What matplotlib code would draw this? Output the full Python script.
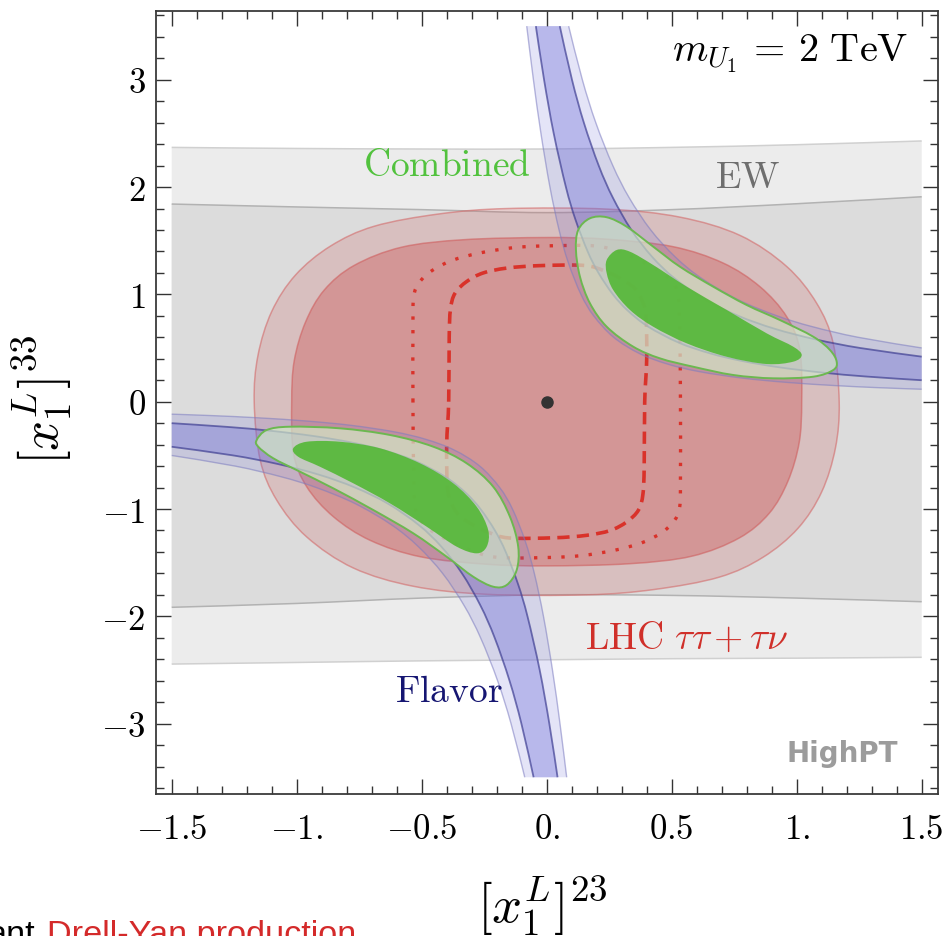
import numpy as np
import matplotlib
matplotlib.use("Agg")
import matplotlib.pyplot as plt
from matplotlib.path import Path
from matplotlib.patches import PathPatch

plt.rcParams["mathtext.fontset"] = "cm"
plt.rcParams["font.family"] = "DejaVu Sans"

# ---- EW constraint: band edges at fixed x ----
EW_X = [-1.5, -1.0, -0.5, 0.0, 0.5, 1.0, 1.5]
EW_OUTER_TOP = [2.37, 2.36, 2.355, 2.355, 2.37, 2.395, 2.43]
EW_INNER_TOP = [1.842, 1.815, 1.79, 1.762, 1.79, 1.845, 1.91]
EW_INNER_BOT = [-1.916, -1.88, -1.83, -1.80, -1.805, -1.83, -1.864]
EW_OUTER_BOT = [-2.445, -2.43, -2.415, -2.405, -2.395, -2.39, -2.382]

# ---- LHC tautau + taunu: upper halves (lower half is the point mirror) ----
LHC_OUT_X = [-1.17, -1.155, -1.10, -1.005, -0.865, -0.69, -0.43, -0.16, 0.24,
             0.533, 0.773, 0.96, 1.08, 1.146]
LHC_OUT_Y = [0.0, 0.43, 0.84, 1.18, 1.45, 1.635, 1.75, 1.80, 1.795,
             1.72, 1.55, 1.26, 0.917, 0.544]
LHC_IN_X = [-1.02, -1.01, -0.965, -0.89, -0.77, -0.58, -0.33, 0.0, 0.24,
            0.505, 0.705, 0.853, 0.96, 1.013]
LHC_IN_Y = [0.0, 0.38, 0.74, 1.04, 1.27, 1.44, 1.51, 1.53, 1.515,
            1.445, 1.293, 1.072, 0.792, 0.48]
DASH_X = [-0.392, -0.39, -0.385, -0.367, -0.32, -0.254, -0.16, -0.03, 0.15,
          0.23, 0.29, 0.35, 0.38, 0.397, 0.40]
DASH_Y = [0.0, 0.60, 0.86, 1.01, 1.12, 1.20, 1.245, 1.268, 1.27,
          1.22, 1.155, 1.06, 0.95, 0.80, 0.40]
DOT_X = [-0.535, -0.535, -0.532, -0.51, -0.46, -0.38, -0.27, -0.135, 0.0,
         0.2, 0.32, 0.44, 0.50, 0.525, 0.532]
DOT_Y = [0.0, 0.70, 0.98, 1.11, 1.22, 1.315, 1.385, 1.435, 1.452,
         1.45, 1.37, 1.235, 1.12, 1.0, 0.70]

# ---- Flavor band, upper-right branch edges (lower-left is the mirror) ----
FLAV_A_X = [-0.0799, -0.0531, -0.0230, 0.0130, 0.0495, 0.0858, 0.1370, 0.1880,
            0.2679, 0.3702, 0.4844, 0.6113, 0.7831, 0.9604, 1.1549, 1.3342, 1.5]
FLAV_A_Y = [3.5, 3.0, 2.5, 2.0, 1.6, 1.3, 1.0, 0.8,
            0.6, 0.45, 0.35, 0.28, 0.22, 0.18, 0.15, 0.13, 0.116]
FLAV_B_X = [-0.0434, -0.0105, 0.0281, 0.0769, 0.1146, 0.1638, 0.2071, 0.2648,
            0.3236, 0.4053, 0.5285, 0.6541, 0.7803, 0.9314, 1.108, 1.2758, 1.5]
FLAV_B_Y = [3.5, 3.0, 2.5, 2.0, 1.7, 1.4, 1.2, 1.0,
            0.85, 0.7, 0.55, 0.45, 0.38, 0.32, 0.27, 0.235, 0.200]
FLAV_C_X = [0.0524, 0.1012, 0.1487, 0.2081, 0.2649, 0.3389, 0.4219, 0.5114,
            0.6354, 0.7667, 0.9116, 1.0769, 1.2556, 1.5]
FLAV_C_Y = [3.5, 3.0, 2.6, 2.2, 1.9, 1.6, 1.35, 1.15,
            0.95, 0.8, 0.68, 0.58, 0.5, 0.420]
FLAV_D_X = [0.0878, 0.1426, 0.1964, 0.2645, 0.3302, 0.4164, 0.5138, 0.6193,
            0.766, 0.9218, 1.0614, 1.2463, 1.5]
FLAV_D_Y = [3.5, 3.0, 2.6, 2.2, 1.9, 1.6, 1.35, 1.15,
            0.95, 0.8, 0.7, 0.6, 0.501]

# ---- Combined fit regions ----
COMB_UR_OUT_X = [0.126, 0.173, 0.24, 0.32, 0.426, 0.533, 0.666, 0.80, 0.933, 1.066,
                 1.133, 1.16, 1.146, 1.066, 0.906, 0.746, 0.586, 0.453, 0.346,
                 0.24, 0.173, 0.133, 0.117]
COMB_UR_OUT_Y = [1.600, 1.709, 1.719, 1.631, 1.445, 1.258, 1.072, 0.901, 0.761, 0.606,
                 0.482, 0.373, 0.295, 0.233, 0.218, 0.249, 0.326, 0.404, 0.513,
                 0.699, 0.917, 1.165, 1.414]
COMB_UR_IN_X = [0.24, 0.28, 0.333, 0.426, 0.56, 0.72, 0.88, 0.986, 1.02, 0.986,
                0.88, 0.72, 0.56, 0.426, 0.333, 0.266, 0.24]
COMB_UR_IN_Y = [1.321, 1.414, 1.398, 1.274, 1.072, 0.855, 0.637, 0.513, 0.435, 0.373,
                0.351, 0.419, 0.544, 0.699, 0.855, 1.041, 1.197]
COMB_LL_OUT_X = [-1.16, -1.12, -1.027, -0.827, -0.627, -0.454, -0.32, -0.214, -0.147,
                 -0.114, -0.12, -0.16, -0.214, -0.294, -0.40, -0.534, -0.694,
                 -0.854, -0.987, -1.094, -1.154]
COMB_LL_OUT_Y = [-0.357, -0.264, -0.233, -0.248, -0.310, -0.419, -0.574, -0.792, -1.072,
                 -1.351, -1.568, -1.708, -1.724, -1.631, -1.445, -1.226, -1.009,
                 -0.807, -0.652, -0.527, -0.419]
COMB_LL_IN_X = [-1.014, -0.96, -0.827, -0.667, -0.507, -0.374, -0.28, -0.234, -0.24,
                -0.28, -0.36, -0.48, -0.627, -0.774, -0.907, -0.994]
COMB_LL_IN_Y = [-0.434, -0.373, -0.373, -0.434, -0.574, -0.760, -0.979, -1.196, -1.351,
                -1.413, -1.351, -1.165, -0.947, -0.760, -0.606, -0.513]

XTICKS = [-1.5, -1.0, -0.5, 0.0, 0.5, 1.0, 1.5]
XTICK_LABELS = [r"$-1.5$", r"$-1.$", r"$-0.5$", r"$0.$", r"$0.5$", r"$1.$", r"$1.5$"]
YTICKS = [-3, -2, -1, 0, 1, 2, 3]
YTICK_LABELS = [r"$-3$", r"$-2$", r"$-1$", r"$0$", r"$1$", r"$2$", r"$3$"]


def mirrored(xs, ys):
    xs, ys = np.asarray(xs, float), np.asarray(ys, float)
    return np.concatenate([xs, -xs]), np.concatenate([ys, -ys])


def bez(xs, ys, closed=False):
    """Catmull-Rom through the read points, as cubic bezier vertices."""
    P = np.column_stack([xs, ys]).astype(float)
    n = len(P)
    verts = [P[0]]
    for i in range(n if closed else n - 1):
        if closed:
            p0, p1, p2, p3 = P[(i - 1) % n], P[i], P[(i + 1) % n], P[(i + 2) % n]
        else:
            p0, p1, p2, p3 = P[max(i - 1, 0)], P[i], P[i + 1], P[min(i + 2, n - 1)]
        verts += [p1 + (p2 - p0) / 6, p2 - (p3 - p1) / 6, p2]
    return verts


def closed_path(xs, ys):
    v = bez(xs, ys, closed=True)
    return Path(v + [v[0]], [Path.MOVETO] + [Path.CURVE4] * (len(v) - 1) + [Path.CLOSEPOLY])


def open_path(xs, ys):
    v = bez(xs, ys)
    return Path(v, [Path.MOVETO] + [Path.CURVE4] * (len(v) - 1))


def band_path(xa, ya, xb, yb):
    va = bez(xa, ya)
    vb = bez(np.asarray(xb)[::-1], np.asarray(yb)[::-1])
    codes = ([Path.MOVETO] + [Path.CURVE4] * (len(va) - 1) + [Path.LINETO]
             + [Path.CURVE4] * (len(vb) - 1) + [Path.CLOSEPOLY])
    return Path(va + vb + [va[0]], codes)


fig = plt.figure(figsize=(9.46, 9.36), dpi=100)
ax = fig.add_axes([0.16459, 0.15192, 0.82664, 0.83632])
ax.set_xlim(-1.564, 1.564)
ax.set_ylim(-3.654, 3.641)

# EW bands
ax.add_patch(PathPatch(band_path(EW_X, EW_OUTER_TOP, EW_X, EW_OUTER_BOT),
                       facecolor="#ececec", edgecolor="none", zorder=1))
ax.add_patch(PathPatch(band_path(EW_X, EW_INNER_TOP, EW_X, EW_INNER_BOT),
                       facecolor="#dcdcdc", edgecolor="none", zorder=1.1))
for ys, c in [(EW_OUTER_TOP, "#d0d0d0"), (EW_OUTER_BOT, "#d0d0d0"),
              (EW_INNER_TOP, "#b2b2b2"), (EW_INNER_BOT, "#b2b2b2")]:
    ax.add_patch(PathPatch(open_path(EW_X, ys), facecolor="none", edgecolor=c,
                           lw=1.1, zorder=1.2))

# LHC regions
ox, oy = mirrored(LHC_OUT_X, LHC_OUT_Y)
ax.add_patch(PathPatch(closed_path(ox, oy), facecolor="#cc4c4c", alpha=0.2,
                       edgecolor="none", zorder=2))
ax.add_patch(PathPatch(closed_path(ox, oy), facecolor="none", edgecolor="#d36a6a",
                       alpha=0.6, lw=1.1, zorder=2.1))
ix, iy = mirrored(LHC_IN_X, LHC_IN_Y)
ax.add_patch(PathPatch(closed_path(ix, iy), facecolor="#cc4c4c", alpha=0.35,
                       edgecolor="none", zorder=2.2))
ax.add_patch(PathPatch(closed_path(ix, iy), facecolor="none", edgecolor="#cf5e5e",
                       alpha=0.6, lw=1.1, zorder=2.3))
dx, dy = mirrored(DASH_X, DASH_Y)
ax.add_patch(PathPatch(closed_path(dx, dy), facecolor="none", edgecolor="#d9322a",
                       lw=2.6, linestyle=(0, (3.4, 2.0)), zorder=3))
tx, ty = mirrored(DOT_X, DOT_Y)
ax.add_patch(PathPatch(closed_path(tx, ty), facecolor="none", edgecolor="#d9322a",
                       lw=2.4, linestyle=(0, (1.0, 3.1)), capstyle="butt", zorder=3))

# Flavor band (two branches)
for s in (1, -1):
    a = (s * np.array(FLAV_A_X), s * np.array(FLAV_A_Y))
    b = (s * np.array(FLAV_B_X), s * np.array(FLAV_B_Y))
    c = (s * np.array(FLAV_C_X), s * np.array(FLAV_C_Y))
    d = (s * np.array(FLAV_D_X), s * np.array(FLAV_D_Y))
    ax.add_patch(PathPatch(band_path(*a, *d), facecolor="#6a6ad8", alpha=0.18,
                           edgecolor="none", zorder=4))
    ax.add_patch(PathPatch(band_path(*b, *c), facecolor="#6a6ad8", alpha=0.36,
                           edgecolor="none", zorder=4.1))
    for e in (a, d):
        ax.add_patch(PathPatch(open_path(*e), facecolor="none", edgecolor="#7c7cc0",
                               alpha=0.55, lw=1.0, zorder=4.2))
    for e in (b, c):
        ax.add_patch(PathPatch(open_path(*e), facecolor="none", edgecolor="#3e3e92",
                               alpha=0.7, lw=1.3, zorder=4.2))

# Combined regions
for xs, ys in [(COMB_UR_OUT_X, COMB_UR_OUT_Y), (COMB_LL_OUT_X, COMB_LL_OUT_Y)]:
    ax.add_patch(PathPatch(closed_path(xs, ys), facecolor="#d7f0c8", alpha=0.65,
                           edgecolor="none", zorder=5))
    ax.add_patch(PathPatch(closed_path(xs, ys), facecolor="none", edgecolor="#6cb850",
                           lw=1.4, zorder=5.1))
for xs, ys in [(COMB_UR_IN_X, COMB_UR_IN_Y), (COMB_LL_IN_X, COMB_LL_IN_Y)]:
    ax.add_patch(PathPatch(closed_path(xs, ys), facecolor="#56b838", alpha=0.92,
                           edgecolor="none", zorder=5.2))

ax.plot([0], [0], "o", color="#333333", ms=8, zorder=6)

# labels inside the plot
ax.text(-0.40, 2.10, r"$\mathrm{Combined}$", color="#52c23e", fontsize=27,
        ha="center", va="baseline", zorder=7)
ax.text(0.805, 1.99, r"$\mathrm{EW}$", color="#6e6e6e", fontsize=27,
        ha="center", va="baseline", zorder=7)
ax.text(0.155, -2.30, r"$\mathrm{LHC}\ \tau\tau+\tau\nu$", color="#d0302a",
        fontsize=27, ha="left", va="baseline", zorder=7)
ax.text(-0.607, -2.80, r"$\mathrm{Flavor}$", color="#161672", fontsize=27,
        ha="left", va="baseline", zorder=7)
ax.text(0.50, 3.17, r"$m_{U_1}\,=\,2\ \mathrm{TeV}$", color="black", fontsize=29,
        ha="left", va="baseline", zorder=7)
ax.text(1.405, -3.36, "HighPT", color="#9c9c9c", fontsize=20, fontweight="bold",
        family="DejaVu Sans", ha="right", va="baseline", zorder=7)

# ticks and frame
ax.set_xticks(XTICKS)
ax.set_xticklabels(XTICK_LABELS)
ax.set_yticks(YTICKS)
ax.set_yticklabels(YTICK_LABELS)
ax.set_xticks(np.round(np.arange(-1.5, 1.501, 0.1), 2), minor=True)
ax.set_yticks(np.round(np.arange(-3.6, 3.601, 0.2), 2), minor=True)
ax.tick_params(which="both", direction="in", top=True, right=True,
               color="#333333", width=1.0, labelsize=25)
ax.tick_params(which="major", length=10.5)
ax.tick_params(which="minor", length=5.8)
ax.tick_params(axis="x", pad=13)
ax.tick_params(axis="y", pad=7)
for sp in ax.spines.values():
    sp.set_color("#3a3a3a")
    sp.set_linewidth(1.3)

fig.text(542 / 946, 1 - 906 / 936, r"$[x_1^L]^{23}$", fontsize=38,
         ha="center", va="center")
fig.text(42 / 946, 1 - 400 / 936, r"$[x_1^L]^{33}$", fontsize=38,
         ha="center", va="center", rotation=90)

# caption fragment cut at the bottom of the screenshot
fig.text(35 / 946, -0.0085, "ant", color="black", fontsize=24.7,
         family="Liberation Sans", ha="right", va="baseline")
fig.text(47 / 946, -0.0085, "Drell-Yan production", color="#d42a2a", fontsize=24.7,
         family="Liberation Sans", ha="left", va="baseline")

fig.savefig("out.png", dpi=100)
